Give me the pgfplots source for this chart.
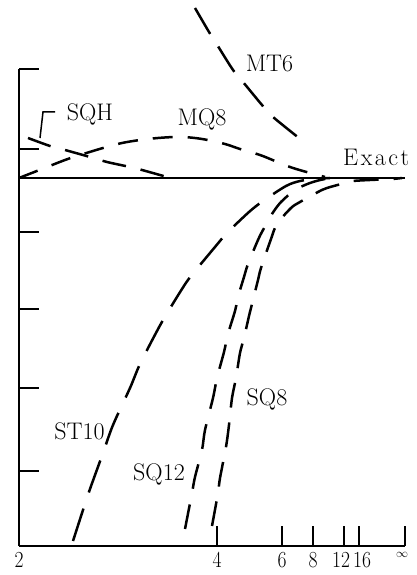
\documentclass[border=0pt]{standalone}
\usepackage{graphicx}
\usepackage{pgfplots}
\pgfplotsset{compat=1.18}
\newcommand{\lab}{\fontsize{24}{28}\selectfont}
\newcommand{\tl}[1]{\scalebox{0.85}[1]{\fontsize{23}{23}\selectfont #1}}
\begin{document}
\begin{tikzpicture}
\begin{axis}[
  x=1pt, y=1pt,
  xmin=19, xmax=405, ymin=29, ymax=506,
  axis x line*=bottom, axis y line*=left,
  axis line style={line width=2pt, -},
  clip=false,
  xtick={19,217,282,313,344,359,405},
  xticklabels={\tl{2},\tl{4},\tl{6},\tl{8},\hspace*{-6pt}\tl{12},\hspace*{6pt}\tl{16},{\hspace*{-6pt}\fontsize{12}{12}\selectfont$\infty$}},
  ytick={104,187,266,343,426,506},
  yticklabels={},
  tick align=inside,
  major tick length=20pt,
  tick style={line width=2pt, black},
  xticklabel style={font=\fontsize{23}{23}\selectfont, inner sep=0pt, anchor=north, yshift=-6pt},
  every axis plot/.append style={line width=2.5pt, black},
]
% Exact
\addplot[solid, line width=2.2pt, black, no marks] coordinates {(19,397) (405,397)};
% ST10
\addplot[smooth, dash pattern=on 34pt off 17pt] coordinates {
(73,34) (83,65) (90,86) (103,122) (113,150) (130,187) (140,211) (157,244)
(166,260) (182,286) (191,299) (215,328) (227,342) (249,363) (263,374)
(286,389) (300,394) (315,396) (330,397)};
% SQ12
\addplot[smooth, dash pattern=on 25pt off 16pt] coordinates {
(185,46) (192,82) (195,98) (202,125) (205,145) (213,177) (217,197) (224,223)
(228,241) (235,264) (238,278) (244,298) (248,311) (258,335) (263,345)
(272,361) (281,373) (295,385) (310,392) (325,396) (340,397)};
% SQ8
\addplot[smooth, dash pattern=on 25pt off 15pt] coordinates {
(212,49) (218,82) (220,97) (226,128) (229,150) (232,177) (236,197) (240,222)
(244,237) (249,259) (252,271) (258,295) (261,307) (271,336) (277,351)
(291,367) (300,373) (318,383) (327,387) (345,392) (353,394) (370,395)
(392,396) (402,397)};
% MQ8
\addplot[smooth, dash pattern=on 20pt off 15pt] coordinates {
(19,397) (42,406) (65,415) (80,420) (103,427) (122,432) (140,435) (158,437)
(175,438) (190,437.5) (205,435.5) (225,431) (240,426) (260,420) (275,414)
(290,408) (303,404) (325,398)};
% SQH
\addplot[smooth, dash pattern=on 24pt off 15pt] coordinates {
(28,437) (50,429) (65,425) (90,418) (107,413) (130,408) (142,405) (167,398)};
% MT6
\addplot[smooth, dash pattern=on 30pt off 15pt] coordinates {
(195,567) (209,543) (216,532) (233,505) (243,493) (262,470) (273,458) (304,433)};
% leader for SQH
\draw[line width=1.5pt] (axis cs:55,463) -- (axis cs:43,463) -- (axis cs:40,437);
% labels
\node[font=\lab, inner sep=0pt, anchor=base] at (axis cs:269.5,503) {MT6};
\node[font=\lab, inner sep=0pt, anchor=base] at (axis cs:202,449) {MQ8};
\node[font=\lab, inner sep=0pt, anchor=base] at (axis cs:90,454) {SQH};
\node[font=\lab, inner sep=0pt, anchor=base west] at (axis cs:343,409) {E\kern2.5pt x\kern2.5pt a\kern2.5pt c\kern2.5pt t};
\node[font=\lab, inner sep=0pt, anchor=base] at (axis cs:79.5,135) {ST10};
\node[font=\lab, inner sep=0pt, anchor=base] at (axis cs:159,94) {SQ12};
\node[font=\lab, inner sep=0pt, anchor=base] at (axis cs:267,169) {SQ8};
\path (axis cs:0,0) rectangle (axis cs:416,575);
\end{axis}
\end{tikzpicture}
\end{document}
